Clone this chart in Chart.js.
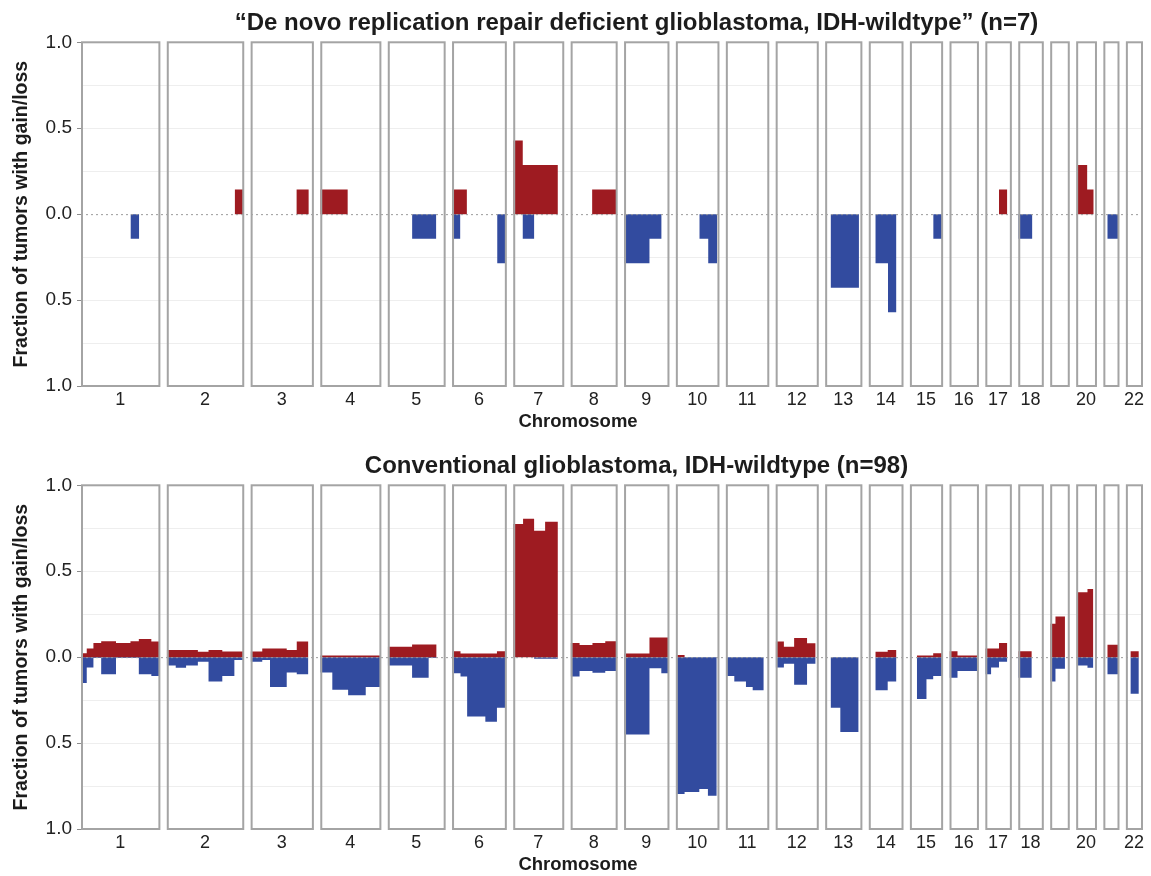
<!DOCTYPE html>
<html>
<head>
<meta charset="utf-8">
<title>Copy-number gain/loss by chromosome</title>
<script src="https://cdn.jsdelivr.net/npm/chart.js@4.4.1/dist/chart.umd.min.js"></script>
<style>
  html, body { margin: 0; padding: 0; background: #ffffff; }
  #wrap { position: relative; width: 1151px; height: 876px; }
  .panel { position: absolute; left: 0; width: 1151px; }
  #p1 { top: 0; height: 443px; }
  #p2 { top: 443px; height: 433px; }
</style>
</head>
<body>
<div id="wrap">
  <div class="panel" id="p1"><canvas id="c1"></canvas></div>
  <div class="panel" id="p2"><canvas id="c2"></canvas></div>
</div>
<script>
// Autosomes and their lengths (Mb, hg19)
const chromosomes = ['1','2','3','4','5','6','7','8','9','10','11','12','13','14','15','16','17','18','19','20','21','22'];
const chromLengthMb = [249.3, 243.2, 198.0, 191.2, 180.9, 171.1, 159.1, 146.4, 141.2, 135.5, 135.0, 133.9,
                       115.2, 107.3, 102.5, 90.4, 81.2, 78.1, 59.1, 63.0, 48.1, 51.3];
// Axis labels under each chromosome (19 and 21 left unlabelled)
const chromTickLabels = ['1','2','3','4','5','6','7','8','9','10','11','12','13','14','15','16','17','18','','20','','22'];
const yTickLabels = ['1.0', '0.5', '0.0', '0.5', '1.0'];

const titleRRD = '\u201CDe novo replication repair deficient glioblastoma, IDH-wildtype\u201D (n=7)';
const titleConv = 'Conventional glioblastoma, IDH-wildtype (n=98)';
const xAxisTitle = 'Chromosome';
const yAxisTitle = 'Fraction of tumors with gain/loss';

// Segments: [chromosome, start Mb, end Mb, fraction with gain, fraction with loss]
const rrdSegments = [
  ['1', 157.3, 185.2, 0, 0.143],
  ['2', 216.0, 243.2, 0.143, 0],
  ['3', 145.5, 185.0, 0.143, 0],
  ['4', 0.0, 87.6, 0.143, 0],
  ['5', 77.3, 154.4, 0, 0.143],
  ['6', 0.0, 25.9, 0.143, 0.143], ['6', 25.9, 47.1, 0.143, 0], ['6', 143.8, 171.1, 0, 0.286],
  ['7', 0.0, 30.3, 0.429, 0], ['7', 30.3, 66.4, 0.286, 0.143], ['7', 66.4, 142.0, 0.286, 0],
  ['8', 68.2, 146.4, 0.143, 0],
  ['9', 0.0, 80.8, 0, 0.286], ['9', 80.8, 119.5, 0, 0.143],
  ['10', 74.6, 103.0, 0, 0.143], ['10', 103.0, 131.5, 0, 0.286],
  ['13', 17.2, 107.5, 0, 0.429],
  ['14', 20.8, 61.1, 0, 0.286], ['14', 61.1, 88.0, 0, 0.571],
  ['15', 74.1, 102.5, 0, 0.143],
  ['17', 43.5, 69.9, 0.143, 0],
  ['18', 0.0, 45.0, 0, 0.143],
  ['20', 1.9, 35.0, 0.286, 0], ['20', 35.0, 55.8, 0.143, 0],
  ['21', 12.5, 48.1, 0, 0.143]
];

const convSegments = [
  ['1', 0.0, 18.3, 0.023, 0.151], ['1', 18.3, 39.5, 0.050, 0.060], ['1', 39.5, 64.2, 0.083, 0.005],
  ['1', 64.2, 111.4, 0.093, 0.099], ['1', 111.4, 157.3, 0.083, 0.005], ['1', 157.3, 183.9, 0.093, 0.005],
  ['1', 183.9, 223.7, 0.105, 0.099], ['1', 223.7, 249.3, 0.091, 0.110],
  ['2', 0.0, 28.5, 0.041, 0.049], ['2', 28.5, 61.4, 0.041, 0.062], ['2', 61.4, 98.9, 0.041, 0.049],
  ['2', 98.9, 132.8, 0.031, 0.027], ['2', 132.8, 176.6, 0.041, 0.142], ['2', 176.6, 215.0, 0.033, 0.110],
  ['2', 215.0, 243.2, 0.033, 0.016],
  ['3', 0.0, 37.0, 0.033, 0.027], ['3', 37.0, 61.6, 0.050, 0.017], ['3', 61.6, 114.8, 0.050, 0.173],
  ['3', 114.8, 146.7, 0.041, 0.089], ['3', 146.7, 183.7, 0.091, 0.099],
  ['4', 0.0, 38.3, 0.010, 0.089], ['4', 38.3, 88.6, 0.010, 0.190], ['4', 88.6, 144.6, 0.010, 0.221],
  ['4', 144.6, 191.2, 0.010, 0.173],
  ['5', 0.0, 77.3, 0.060, 0.049], ['5', 77.3, 130.0, 0.073, 0.120], ['5', 130.0, 155.3, 0.073, 0.005],
  ['6', 0.0, 26.9, 0.035, 0.093], ['6', 26.9, 48.0, 0.021, 0.112], ['6', 48.0, 105.9, 0.021, 0.345],
  ['6', 105.9, 142.8, 0.021, 0.376], ['6', 142.8, 171.1, 0.035, 0.295],
  ['7', 0.0, 31.3, 0.775, 0], ['7', 31.3, 66.4, 0.806, 0], ['7', 66.4, 101.4, 0.736, 0.010],
  ['7', 101.4, 142.0, 0.788, 0.010],
  ['8', 0.0, 28.4, 0.083, 0.112], ['8', 28.4, 69.4, 0.070, 0.080], ['8', 69.4, 110.1, 0.083, 0.091],
  ['8', 110.1, 146.4, 0.093, 0.080],
  ['9', 0.0, 80.8, 0.021, 0.450], ['9', 80.8, 118.5, 0.114, 0.064], ['9', 118.5, 141.2, 0.114, 0.093],
  ['10', 0.0, 27.8, 0.012, 0.797], ['10', 27.8, 74.6, 0, 0.785], ['10', 74.6, 102.0, 0, 0.767],
  ['10', 102.0, 130.1, 0, 0.806],
  ['11', 0.0, 26.9, 0, 0.110], ['11', 26.9, 64.0, 0, 0.142], ['11', 64.0, 85.4, 0, 0.173],
  ['11', 85.4, 120.6, 0, 0.192],
  ['12', 0.0, 26.1, 0.091, 0.060], ['12', 26.1, 58.7, 0.060, 0.039], ['12', 58.7, 99.8, 0.112, 0.161],
  ['12', 99.8, 127.1, 0.081, 0.039],
  ['13', 17.2, 48.2, 0, 0.295], ['13', 48.2, 106.5, 0, 0.436],
  ['14', 20.8, 60.2, 0.031, 0.192], ['14', 60.2, 88.0, 0.041, 0.142],
  ['15', 22.1, 52.7, 0.010, 0.244], ['15', 52.7, 74.1, 0.010, 0.128], ['15', 74.1, 102.5, 0.023, 0.110],
  ['16', 0.0, 25.4, 0.035, 0.120], ['16', 25.4, 90.4, 0.010, 0.080],
  ['17', 0.0, 18.3, 0.050, 0.099], ['17', 18.3, 43.5, 0.050, 0.060], ['17', 43.5, 69.9, 0.083, 0.027],
  ['18', 0.0, 43.1, 0.035, 0.120],
  ['19', 0.0, 16.8, 0.195, 0.142], ['19', 16.8, 47.0, 0.236, 0.068],
  ['20', 1.9, 36.0, 0.378, 0.049], ['20', 36.0, 54.6, 0.397, 0.062],
  ['21', 12.5, 48.1, 0.072, 0.099],
  ['22', 14.4, 41.2, 0.035, 0.213]
];

// ---- layout / style ----
const CHROM_GAP_MB = 23.5;
const GAIN_COLOR = '#9e1b21';
const LOSS_COLOR = '#324b9f';
const TEXT_COLOR = '#1c1c1c';
const FONT = "'Liberation Sans', Arial, Helvetica, sans-serif";

const chromStart = [];
let running = 0;
chromLengthMb.forEach(len => { chromStart.push(running); running += len + CHROM_GAP_MB; });
const genomeSpan = running - CHROM_GAP_MB;

const tickCentres = [];
const tickTexts = [];
chromosomes.forEach((c, i) => {
  if (chromTickLabels[i] !== '') {
    tickCentres.push(chromStart[i] + chromLengthMb[i] / 2);
    tickTexts.push(chromTickLabels[i]);
  }
});

// Turn the segment table into one stepped, filled line per chromosome
function buildDatasets(rows, col, sign, color) {
  const out = [];
  chromosomes.forEach((name, ci) => {
    const segs = rows.filter(r => r[0] === name);
    if (!segs.some(s => s[col] > 0)) return;
    const off = chromStart[ci];
    const pts = [];
    segs.forEach((s, k) => {
      if (k > 0 && s[1] - segs[k - 1][2] > 0.01) pts.push({ x: off + segs[k - 1][2], y: 0 });
      pts.push({ x: off + s[1], y: sign * s[col] });
    });
    const last = segs[segs.length - 1];
    pts.push({ x: off + last[2], y: sign * last[col] });
    out.push({
      data: pts,
      stepped: true,
      fill: 'origin',
      backgroundColor: color,
      borderColor: color,
      borderWidth: 0,
      pointRadius: 0,
      pointHoverRadius: 0
    });
  });
  return out;
}

// Chromosome frames and the dotted zero line
const framePlugin = {
  id: 'chromFrames',
  afterDatasetsDraw(chart) {
    const { ctx, chartArea, scales: { x, y } } = chart;
    const top = y.getPixelForValue(1);
    const bottom = y.getPixelForValue(-1);
    const zero = y.getPixelForValue(0);
    ctx.save();
    ctx.setLineDash([2, 3]);
    ctx.strokeStyle = '#9a9a9a';
    ctx.lineWidth = 1;
    ctx.beginPath();
    ctx.moveTo(chartArea.left, zero + 0.5);
    ctx.lineTo(chartArea.right, zero + 0.5);
    ctx.stroke();
    ctx.setLineDash([]);
    ctx.strokeStyle = '#a4a4a4';
    ctx.lineWidth = 2;
    chromosomes.forEach((c, i) => {
      const x0 = x.getPixelForValue(chromStart[i]);
      const x1 = x.getPixelForValue(chromStart[i] + chromLengthMb[i]);
      ctx.strokeRect(x0 + 1, top, x1 - x0 - 1, bottom - top);
    });
    ctx.restore();
  }
};

// Panel heading and the "Chromosome" caption
const captionPlugin = {
  id: 'panelCaptions',
  afterDraw(chart, args, opts) {
    const { ctx, chartArea } = chart;
    ctx.save();
    ctx.fillStyle = TEXT_COLOR;
    ctx.textAlign = 'center';
    ctx.textBaseline = 'middle';
    ctx.font = 'bold 24px ' + FONT;
    ctx.fillText(opts.title, (chartArea.left + chartArea.right) / 2 + 25, chartArea.top - 18.5);
    ctx.font = 'bold 18.5px ' + FONT;
    ctx.fillText(xAxisTitle, chart.width / 2 + 2.5, chartArea.bottom + 35.5);
    ctx.restore();
  }
};

function makePanel(canvasId, title, rows, padBottom, axisHeight) {
  const datasets = buildDatasets(rows, 3, 1, GAIN_COLOR).concat(buildDatasets(rows, 4, -1, LOSS_COLOR));
  return new Chart(document.getElementById(canvasId), {
    type: 'line',
    data: { datasets },
    plugins: [framePlugin, captionPlugin],
    options: {
      responsive: true,
      maintainAspectRatio: false,
      animation: false,
      events: [],
      layout: { padding: { left: 0, right: 9, top: 42.3, bottom: padBottom } },
      plugins: {
        legend: { display: false },
        tooltip: { enabled: false },
        title: { display: false },
        panelCaptions: { title }
      },
      scales: {
        x: {
          type: 'linear',
          min: 0,
          max: genomeSpan,
          offset: false,
          grid: { display: false, drawTicks: false },
          border: { display: false },
          afterFit(scale) { scale.height = axisHeight; },
          afterBuildTicks(scale) { scale.ticks = tickCentres.map(v => ({ value: v })); },
          ticks: {
            autoSkip: false,
            maxRotation: 0,
            padding: 3,
            color: '#222222',
            font: { family: FONT, size: 18 },
            callback: (value, index) => tickTexts[index]
          }
        },
        y: {
          min: -1,
          max: 1,
          afterFit(scale) { scale.width = 81; },
          afterBuildTicks(scale) {
            const vals = [];
            for (let k = -4; k <= 4; k++) vals.push({ value: k / 4 });
            scale.ticks = vals;
          },
          border: { display: true, color: '#8c8c8c', width: 1 },
          grid: {
            drawTicks: true,
            tickLength: 4,
            color: ctx => {
              const v = ctx.tick ? ctx.tick.value : 0;
              return (Math.abs(v) < 1e-6 || Math.abs(Math.abs(v) - 1) < 1e-6) ? 'rgba(0,0,0,0)' : '#eeeeee';
            },
            tickColor: ctx => {
              const v = ctx.tick ? ctx.tick.value : 0;
              return Math.abs(v * 2 - Math.round(v * 2)) < 1e-6 ? '#8c8c8c' : 'rgba(0,0,0,0)';
            }
          },
          ticks: {
            padding: 5,
            color: '#222222',
            font: { family: FONT, size: 19 },
            callback: (value) => {
              const idx = Math.round((1 - value) * 2);
              return Math.abs(value * 2 - Math.round(value * 2)) < 1e-6 ? yTickLabels[idx] : '';
            }
          },
          title: {
            display: true,
            text: yAxisTitle,
            color: TEXT_COLOR,
            font: { family: FONT, size: 19.5, weight: 'bold', lineHeight: 1.0 },
            padding: { top: 11.5, bottom: 0 }
          }
        }
      }
    }
  });
}

makePanel('c1', titleRRD, rrdSegments, 12, 45);
makePanel('c2', titleConv, convSegments, 0, 47);
</script>
</body>
</html>
